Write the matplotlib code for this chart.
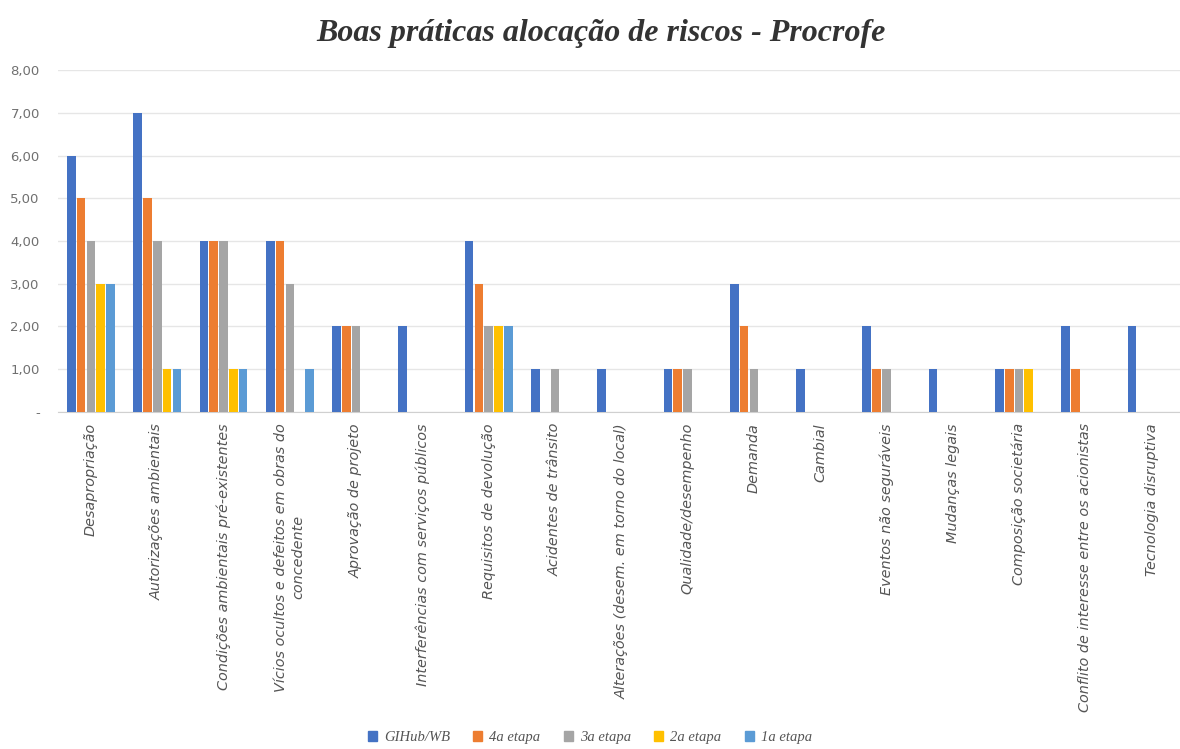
import matplotlib
matplotlib.use("Agg")
import matplotlib.pyplot as plt
import numpy as np
from matplotlib.patches import Patch

categories = [
    "Desapropriação",
    "Autorizações ambientais",
    "Condições ambientais pré-existentes",
    "Vícios ocultos e defeitos em obras do\nconcedente",
    "Aprovação de projeto",
    "Interferências com serviços públicos",
    "Requisitos de devolução",
    "Acidentes de trânsito",
    "Alterações (desem. em torno do local)",
    "Qualidade/desempenho",
    "Demanda",
    "Cambial",
    "Eventos não seguráveis",
    "Mudanças legais",
    "Composição societária",
    "Conflito de interesse entre os acionistas",
    "Tecnologia disruptiva",
]

series_names = ["GIHub/WB", "4a etapa", "3a etapa", "2a etapa", "1a etapa"]

gihub = [6, 7, 4, 4, 2, 2, 4, 1, 1, 1, 3, 1, 2, 1, 1, 2, 2]
etapa4 = [5, 5, 4, 4, 2, 0, 3, 0, 0, 1, 2, 0, 1, 0, 1, 1, 0]
etapa3 = [4, 4, 4, 3, 2, 0, 2, 1, 0, 1, 1, 0, 1, 0, 1, 0, 0]
etapa2 = [3, 1, 1, 0, 0, 0, 2, 0, 0, 0, 0, 0, 0, 0, 1, 0, 0]
etapa1 = [3, 1, 1, 1, 0, 0, 2, 0, 0, 0, 0, 0, 0, 0, 0, 0, 0]

yticks = [0, 1, 2, 3, 4, 5, 6, 7, 8]
ytick_labels = ["-", "1,00", "2,00", "3,00", "4,00", "5,00", "6,00", "7,00", "8,00"]

colors = ["#4472C4", "#ED7D31", "#A5A5A5", "#FFC000", "#5B9BD5"]

fig = plt.figure(figsize=(11.8, 7.49), dpi=100)
ax = fig.add_axes([0.049, 0.45, 0.955, 0.4565])

data = [gihub, etapa4, etapa3, etapa2, etapa1]
x = np.arange(len(categories))
bw = 0.148
for i, (vals, c, name) in enumerate(zip(data, colors, series_names)):
    ax.bar(x + (i - 2) * bw, vals, width=bw * 0.88, color=c, label=name, zorder=3)

ax.set_xlim(-0.5, len(categories) - 0.5)
ax.set_ylim(0, 8)
ax.set_yticks(yticks)
ax.set_yticklabels(ytick_labels, color="#707070", fontsize=9.5, family="DejaVu Sans")
ax.grid(axis="y", color="#E6E6E6", linewidth=1, zorder=0)
ax.tick_params(axis="both", length=0)
ax.tick_params(axis="y", pad=13)
for s in ["top", "right", "left"]:
    ax.spines[s].set_visible(False)
ax.spines["bottom"].set_color("#D0D0D0")

ax.set_xticks(x)
ax.set_xticklabels(categories, rotation=90, ha="center", va="top",
                   fontsize=10.4, style="italic", color="#555555",
                   family="DejaVu Sans", linespacing=1.3)
ax.tick_params(axis="x", pad=8)

fig.text(0.509, 0.955, "Boas práticas alocação de riscos - Procrofe",
         ha="center", va="center", fontsize=23, fontweight="bold",
         style="italic", family="Liberation Serif", color="#333333")

handles = [Patch(color=c) for c in colors]
fig.legend(handles, series_names, loc="center", bbox_to_anchor=(0.5, 0.015),
           ncol=5, frameon=False, handlelength=0.6, handleheight=0.6,
           columnspacing=1.6, handletextpad=0.5,
           prop={"family": "Liberation Serif", "style": "italic", "size": 10.5},
           labelcolor="#555555")

fig.savefig("out.png", dpi=100, facecolor="white")
